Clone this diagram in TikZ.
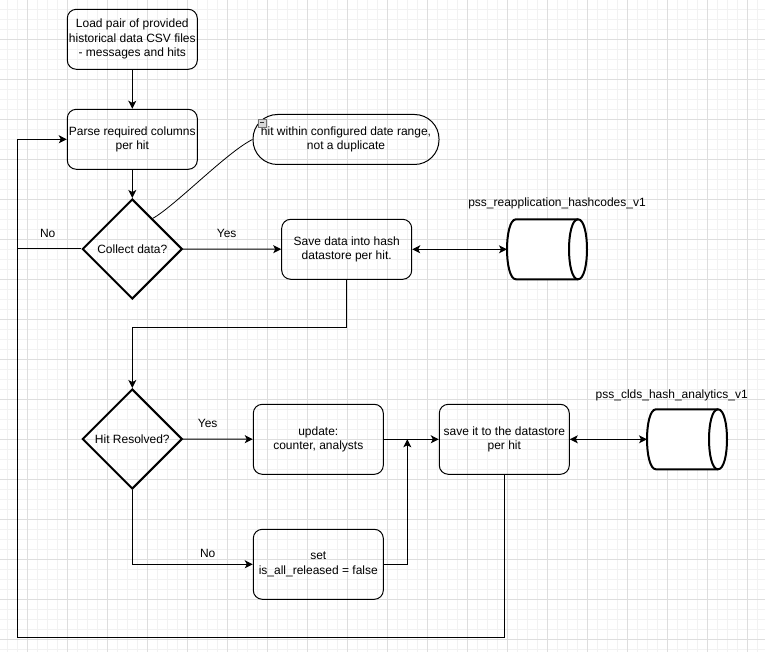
\documentclass[tikz,border=0pt]{standalone}
\usepackage{fontspec}
\setmainfont{Liberation Sans}
\usetikzlibrary{shapes.geometric,arrows.meta,calc}
\newcommand\dtxt{\fontsize{12pt}{14.4pt}\selectfont}
\begin{document}
\begin{tikzpicture}[x=1pt,y=-1pt,
  box/.style={draw, rounded corners=9pt, minimum width=130pt, minimum height=60pt, inner sep=0pt, align=center, font=\dtxt, line width=1pt},
  notebox/.style={draw, rounded corners=24.5pt, minimum width=186pt, minimum height=50pt, inner sep=0pt, align=center, font=\dtxt, line width=1pt},
  dia/.style={draw, diamond, minimum width=100pt, minimum height=100pt, inner sep=0pt, line width=2pt, align=center, font=\dtxt},
  cylbox/.style={minimum width=80pt, minimum height=60pt, inner sep=0pt, outer sep=0pt},
  lbl/.style={font=\dtxt, inner sep=0pt},
  tip/.style={Stealth[length=8pt,width=8pt,inset=2pt]},
  conn/.style={line width=1pt, -{Stealth[length=8pt,width=8pt,inset=2pt]}},
  dconn/.style={line width=1pt, {Stealth[length=8pt,width=8pt,inset=2pt]}-{Stealth[length=8pt,width=8pt,inset=2pt]}},
  plain/.style={line width=1pt},
  gridminor/.style={line width=1pt, draw=black!5},
  gridmajor/.style={line width=1pt, draw=black!13}
]
\useasboundingbox (0,0) rectangle (765,652);
\fill[white] (0,0) rectangle (765,652);
% grid
\foreach \k in {0,...,75} {\draw[gridminor] (7.3+10*\k,0) -- (7.3+10*\k,652);}
\foreach \k in {0,...,64} {\draw[gridminor] (0,9.3+10*\k) -- (765,9.3+10*\k);}
\foreach \k in {0,...,18} {\draw[gridmajor] (27.3+40*\k,0) -- (27.3+40*\k,652);}
\foreach \k in {0,...,16} {\draw[gridmajor] (0,-0.7+40*\k) -- (765,-0.7+40*\k);}

% nodes
\node[box] (load) at (132.3,39.3) {Load pair of provided\\historical data CSV files\\- messages and hits};
\node[box] (parse) at (132.3,139.3) {Parse required columns\\per hit};
\node[dia] (collect) at (132.3,249) {Collect data?};
\node[notebox] (note) at (346,139.5) {hit within configured date range,\\not a duplicate};
\node[box] (save) at (346.7,249.3) {Save data into hash\\datastore per hit.};
\node[cylbox] (db1) at (547,249.3) {};
\node[lbl] (db1lbl) at (557,203) {pss\_reapplication\_hashcodes\_v1};
\node[dia] (resolved) at (132.3,439) {Hit Resolved?};
\node[box, minimum height=70pt] (update) at (318.3,439.3) {update:\\counter, analysts};
\node[box, minimum height=70pt] (set) at (318.3,564.3) {set\\is\_all\_released = false};
\node[box, minimum height=70pt] (store) at (504.3,439.3) {save it to the datastore\\per hit};
\node[cylbox] (db2) at (687,439.3) {};
\node[lbl] (db2lbl) at (671.7,395) {pss\_clds\_hash\_analytics\_v1};

% cylinders
\foreach \c in {db1,db2} {
  \path (\c.north west) coordinate (nw) (\c.south east) coordinate (se);
  \draw[line width=2pt, fill=white, line join=round]
    let \p1=(nw), \p2=(se) in
    (\x2-9pt,\y1) .. controls (\x2+3pt,\y1) and (\x2+3pt,\y2) .. (\x2-9pt,\y2)
    -- (\x1+9pt,\y2) .. controls (\x1-3pt,\y2) and (\x1-3pt,\y1) .. (\x1+9pt,\y1) -- cycle;
  \draw[line width=2pt]
    let \p1=(nw), \p2=(se) in
    (\x2-9pt,\y1) .. controls (\x2-21pt,\y1) and (\x2-21pt,\y2) .. (\x2-9pt,\y2);
}

% collapse icon on note
\draw[black!55, fill=black!15, line width=0.8pt] (258.3,119) rectangle (266.3,127);
\draw[black!80, line width=1pt] (260.3,123) -- (264.3,123);

% connectors
\draw[conn] (load) -- (parse);
\draw[conn] (parse) -- (collect);
\draw[conn] (collect) -- (save);
\node[lbl] (yes1) at (226.7,233) {Yes};
\coordinate (noJoin) at (17.3,249);
\draw[plain] (collect.west) -- (noJoin);
\node[lbl] (no1) at (47.7,233) {No};
\coordinate (curveStart) at ($(collect.north)!0.4!(collect.east)$);
\draw[line width=0.8pt] (curveStart) .. controls (175,206) and (227,152) .. (note.west);
\draw[dconn] (save) -- (db1);
\draw[conn] (save.south) -- ++(0,48) -| (resolved.north);
\draw[conn] (resolved) -- (update);
\node[lbl] (yes2) at (207.7,423.3) {Yes};
\draw[conn] (resolved.south) |- (set.west);
\node[lbl] (no2) at (207.7,553.3) {No};
\draw[conn] (update) -- (store);
\coordinate (join) at (407.3,439.3);
\draw[conn] (set.east) -| (join);
\draw[dconn] (store) -- (db2);
\coordinate (loopL) at (17.3,637.5);
\draw[conn] (store.south) |- (loopL) |- (parse.west);
\end{tikzpicture}
\end{document}
